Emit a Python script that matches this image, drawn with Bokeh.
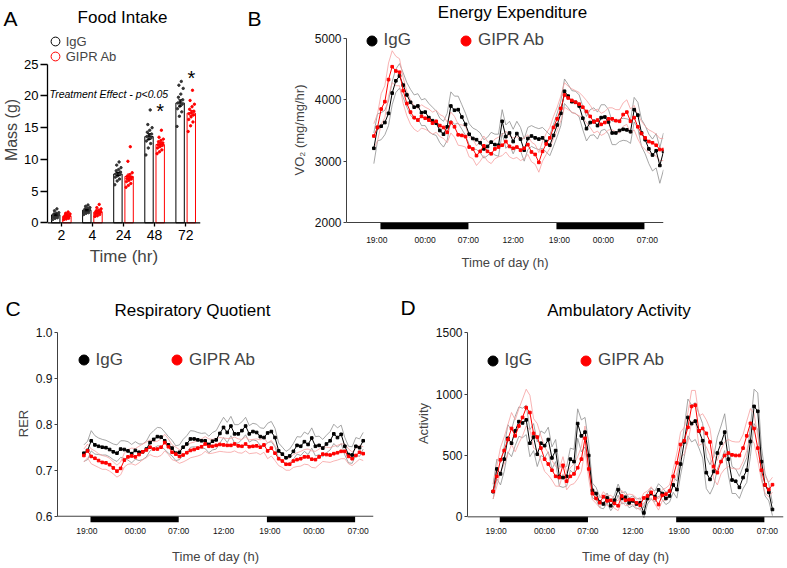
import numpy as np
from bokeh.plotting import figure
from bokeh.models import Range1d, FixedTicker, Label, Legend, LegendItem, Span
from bokeh.layouts import row, column
from bokeh.embed import file_html
from bokeh.resources import INLINE

FONT = "Liberation Sans"
NARROW = "Liberation Sans Narrow, Liberation Sans"
BLACK = "#000000"
RED = "#ff0000"
GREY_LIGHT = "#8f8f8f"
RED_LIGHT = "#f6a0a0"
AXIS = "#404040"

# ---------------- Panel A: food intake ----------------
intake_times = ["2", "4", "24", "48", "72"]
intake_igg_mean = [1.25, 2.0, 7.7, 13.6, 18.9]
intake_gipr_mean = [1.05, 1.7, 7.3, 12.35, 17.3]
intake_igg_sem = [0.12, 0.11, 0.25, 0.45, 0.5]
intake_gipr_sem = [0.09, 0.12, 0.4, 0.3, 0.4]
intake_igg_points = [
    [0.5, 0.7, 0.8, 0.9, 1.0, 1.1, 1.2, 1.2, 1.3, 1.4, 1.5, 1.6, 1.9, 2.2],
    [1.3, 1.5, 1.6, 1.7, 1.8, 1.9, 2.0, 2.0, 2.1, 2.2, 2.3, 2.4, 2.6, 2.8],
    [6.0, 6.6, 6.9, 7.2, 7.4, 7.6, 7.7, 7.8, 8.0, 8.2, 8.4, 8.7, 9.1, 9.6],
    [10.7, 11.8, 12.5, 12.9, 13.2, 13.4, 13.6, 13.8, 14.0, 14.3, 14.6, 15.0, 15.5, 17.8],
    [15.2, 16.8, 17.5, 18.0, 18.4, 18.7, 18.9, 19.1, 19.4, 19.8, 20.3, 21.2, 21.7, 22.3],
]
intake_gipr_points = [
    [0.5, 0.6, 0.7, 0.8, 0.9, 1.0, 1.0, 1.1, 1.1, 1.2, 1.3, 1.4, 1.5, 1.7],
    [1.0, 1.1, 1.3, 1.4, 1.5, 1.6, 1.7, 1.7, 1.8, 1.9, 2.0, 2.2, 2.4, 2.9],
    [5.6, 5.9, 6.2, 6.5, 6.7, 6.9, 7.0, 7.1, 7.2, 7.4, 7.6, 7.9, 9.7, 12.0],
    [10.9, 11.2, 11.5, 11.8, 12.0, 12.2, 12.3, 12.4, 12.6, 12.8, 13.0, 13.2, 13.5, 14.6],
    [14.4, 15.3, 15.9, 16.3, 16.7, 17.0, 17.2, 17.4, 17.6, 17.9, 18.3, 18.7, 19.3, 20.9],
]
intake_sig_labels = ["", "", "", "*", "*"]
intake_sig_y = [0, 0, 0, 17.7, 22.9]
intake_yticks = [0, 5, 10, 15, 20, 25]

# ---------------- Time-series panels ----------------
time_tick_hours = [-0.5, 6.1, 12.0, 18.1, 24.4, 30.4, 36.4]
time_tick_labels = ["19:00", "00:00", "07:00", "12:00", "19:00", "00:00", "07:00"]
dark_start = [0, 24]
dark_end = [12, 36]

vo2_igg = [3210, 3550, 3570, 3630, 3780, 4110, 4310, 4390, 4240, 4080,
           3960, 3880, 3900, 3790, 3800, 3710, 3660, 3620, 3500, 3440,
           3560, 3900, 3830, 3840, 3720, 3600, 3440, 3370, 3350, 3300,
           3200, 3240, 3310, 3270, 3260, 3650, 3400, 3460, 3320, 3450,
           3360, 3180, 3370, 3410, 3380, 3360, 3380, 3320, 3260, 3420,
           3590, 3780, 4140, 4060, 3970, 3960, 3900, 3700, 3530, 3630,
           3650, 3580, 3710, 3720, 3640, 3460, 3460, 3500, 3520, 3510,
           3480, 3840, 3750, 3460, 3350, 3200, 3100, 3170, 2930, 3160]
vo2_gipr = [3410, 3550, 3850, 3970, 4330, 4540, 4470, 4450, 4150, 3940,
            3800, 3710, 3670, 3730, 3700, 3670, 3620, 3650, 3580, 3550,
            3470, 3630, 3560, 3430, 3420, 3400, 3230, 3200, 3090, 3160,
            3250, 3160, 3120, 3200, 3230, 3260, 3320, 3240, 3210, 3230,
            3180, 3210, 3270, 3150, 3110, 2980, 3160, 3280, 3380, 3550,
            3690, 3860, 4080, 4030, 3990, 3960, 3930, 3880, 3810, 3730,
            3640, 3670, 3600, 3630, 3690, 3690, 3660, 3650, 3760, 3800,
            3650, 3710, 3560, 3450, 3380, 3320, 3300, 3260, 3190, 3190]
vo2_igg_sem = [250, 220, 220, 200, 200, 190, 190, 200, 200, 200,
               210, 200, 200, 210, 220, 230, 220, 200, 200, 210,
               220, 230, 230, 220, 200, 180, 170, 170, 160, 160,
               150, 150, 160, 170, 180, 190, 190, 190, 200, 200,
               190, 180, 180, 170, 170, 170, 170, 170, 170, 180,
               190, 200, 200, 190, 180, 180, 180, 190, 200, 210,
               220, 220, 210, 200, 200, 190, 190, 180, 180, 180,
               190, 200, 210, 220, 230, 240, 260, 280, 290, 300]
vo2_gipr_sem = [200, 220, 250, 260, 270, 260, 240, 220, 210, 200,
                200, 190, 190, 190, 180, 180, 180, 180, 180, 180,
                170, 170, 170, 170, 170, 170, 160, 160, 160, 160,
                160, 160, 160, 160, 160, 170, 170, 170, 170, 170,
                170, 170, 160, 160, 160, 160, 160, 170, 170, 180,
                190, 200, 200, 190, 190, 190, 190, 180, 180, 180,
                180, 180, 180, 180, 180, 180, 180, 190, 190, 200,
                200, 200, 200, 200, 190, 190, 180, 180, 180, 180]

rer_igg = [0.737, 0.743, 0.764, 0.755, 0.752, 0.750, 0.749, 0.745, 0.740, 0.737,
           0.746, 0.745, 0.742, 0.736, 0.743, 0.739, 0.740, 0.746, 0.760, 0.767,
           0.773, 0.772, 0.764, 0.755, 0.748, 0.737, 0.739, 0.750, 0.757, 0.768,
           0.768, 0.766, 0.764, 0.764, 0.756, 0.763, 0.766, 0.780, 0.793, 0.782,
           0.796, 0.779, 0.779, 0.786, 0.796, 0.779, 0.784, 0.782, 0.773, 0.771,
           0.781, 0.784, 0.771, 0.742, 0.735, 0.727, 0.731, 0.741, 0.754, 0.752,
           0.762, 0.756, 0.770, 0.752, 0.754, 0.748, 0.757, 0.764, 0.779, 0.771,
           0.778, 0.752, 0.734, 0.733, 0.752, 0.749, 0.764]
rer_gipr = [0.732, 0.742, 0.730, 0.726, 0.721, 0.717, 0.716, 0.712, 0.705, 0.698,
            0.704, 0.722, 0.729, 0.731, 0.729, 0.734, 0.740, 0.744, 0.750, 0.746,
            0.746, 0.750, 0.760, 0.751, 0.739, 0.735, 0.730, 0.733, 0.738, 0.743,
            0.745, 0.748, 0.751, 0.757, 0.752, 0.752, 0.754, 0.756, 0.755, 0.754,
            0.754, 0.757, 0.753, 0.752, 0.757, 0.751, 0.752, 0.753, 0.750, 0.755,
            0.742, 0.748, 0.737, 0.725, 0.720, 0.713, 0.713, 0.720, 0.723, 0.725,
            0.729, 0.729, 0.724, 0.723, 0.729, 0.735, 0.734, 0.733, 0.736, 0.738,
            0.741, 0.741, 0.730, 0.725, 0.732, 0.739, 0.736]
rer_igg_sem = [0.018, 0.020, 0.022, 0.020, 0.018, 0.017, 0.016, 0.016, 0.017, 0.018,
               0.018, 0.019, 0.020, 0.020, 0.019, 0.018, 0.017, 0.017, 0.018, 0.019,
               0.020, 0.020, 0.019, 0.018, 0.017, 0.016, 0.016, 0.017, 0.018, 0.018,
               0.017, 0.016, 0.016, 0.017, 0.018, 0.019, 0.020, 0.021, 0.022, 0.022,
               0.021, 0.020, 0.020, 0.019, 0.019, 0.018, 0.018, 0.018, 0.019, 0.020,
               0.021, 0.022, 0.020, 0.017, 0.015, 0.014, 0.015, 0.017, 0.019, 0.020,
               0.021, 0.022, 0.022, 0.021, 0.020, 0.019, 0.019, 0.020, 0.021, 0.021,
               0.020, 0.019, 0.018, 0.018, 0.019, 0.019, 0.018]
rer_gipr_sem = [0.014, 0.015, 0.016, 0.016, 0.015, 0.015, 0.014, 0.014, 0.013, 0.013,
                0.014, 0.015, 0.016, 0.017, 0.018, 0.018, 0.017, 0.017, 0.016, 0.016,
                0.017, 0.018, 0.018, 0.017, 0.016, 0.015, 0.015, 0.015, 0.016, 0.016,
                0.016, 0.017, 0.017, 0.016, 0.016, 0.015, 0.015, 0.015, 0.015, 0.015,
                0.015, 0.015, 0.015, 0.015, 0.015, 0.015, 0.015, 0.015, 0.016, 0.016,
                0.017, 0.017, 0.016, 0.015, 0.014, 0.013, 0.013, 0.014, 0.015, 0.016,
                0.016, 0.017, 0.018, 0.018, 0.017, 0.016, 0.016, 0.016, 0.016, 0.016,
                0.016, 0.016, 0.016, 0.015, 0.015, 0.015, 0.015]
rer_tick_values = [0.6, 0.7, 0.8, 0.9, 1.0]
rer_tick_labels = ["0.6", "0.7", "0.8", "0.9", "1.0"]

act_igg = [205, 390, 350, 470, 640, 600, 700, 776, 765, 790,
           600, 650, 510, 600, 580, 630, 480, 540, 330, 320,
           330, 470, 450, 760, 660, 690, 500, 215, 190, 120,
           105, 154, 90, 135, 222, 150, 160, 114, 130, 105,
           114, 32, 150, 190, 165, 220, 190, 150, 170, 260,
           222, 430, 610, 810, 760, 780, 700, 620, 360, 305,
           370, 520, 600, 690, 470, 300, 290, 240, 320, 380,
           614, 900, 860, 450, 260, 200, 60]
act_gipr = [208, 330, 465, 540, 630, 720, 660, 740, 810, 890,
            850, 680, 650, 560, 470, 430, 380, 330, 320, 420,
            290, 330, 350, 400, 470, 640, 390, 190, 150, 115,
            165, 130, 135, 110, 90, 170, 135, 140, 140, 115,
            95, 154, 170, 200, 150, 100, 175, 185, 210, 330,
            440, 590, 620, 730, 900, 910, 700, 720, 680, 610,
            410, 360, 450, 500, 520, 505, 500, 500, 560, 660,
            762, 720, 560, 380, 260, 222, 262]
act_igg_sem = [60, 80, 90, 100, 110, 110, 120, 120, 120, 120,
               110, 110, 100, 100, 100, 100, 90, 90, 80, 80,
               80, 90, 100, 120, 130, 120, 100, 60, 50, 45,
               40, 40, 40, 40, 45, 45, 45, 40, 40, 40,
               40, 40, 45, 45, 45, 50, 50, 50, 50, 60,
               70, 90, 120, 150, 150, 150, 140, 140, 130, 120,
               120, 130, 140, 150, 130, 110, 100, 90, 90, 100,
               120, 140, 150, 120, 90, 70, 50]
act_gipr_sem = [60, 80, 100, 110, 120, 130, 130, 140, 150, 150,
                140, 120, 110, 100, 100, 90, 80, 80, 70, 70,
                70, 70, 80, 90, 100, 100, 80, 50, 40, 40,
                40, 40, 40, 40, 40, 45, 45, 45, 40, 40,
                40, 40, 40, 45, 45, 45, 45, 50, 50, 60,
                80, 100, 110, 120, 130, 120, 120, 120, 110, 110,
                100, 100, 100, 110, 110, 110, 110, 110, 110, 120,
                120, 120, 100, 80, 70, 60, 60]

nan = float("nan")


def sample_hours(n):
    # 30-minute sampling starting shortly before lights-off (19:00 = hour 0)
    return [round(-0.9 + 0.5 * i, 2) for i in range(n)]


def base_style(p):
    p.outline_line_color = None
    p.xgrid.visible = False
    p.ygrid.visible = False
    p.background_fill_color = "white"
    p.border_fill_color = "white"


def add_text(p, x, y, text, size, align="center", style="normal"):
    p.add_layout(Label(x=x, y=y, x_units="screen", y_units="screen", text=text,
                       text_font=FONT, text_font_size=size, text_align=align,
                       text_baseline="middle", text_font_style=style,
                       text_color="black"))


def header(width, height, items):
    h = figure(width=width, height=height, x_range=Range1d(0, width), y_range=Range1d(0, height),
               x_axis_type=None, y_axis_type=None, output_backend="svg",
               toolbar_location=None, min_border=0)
    base_style(h)
    for x, y, text, size, align in items:
        add_text(h, x, y, text, size, align=align)
    return h


# ---------------- headers (panel letters and titles) ----------------
head_top = header(785, 30, [(3, 12.5, "A", "21px", "left"),
                            (122, 13, "Food Intake", "17px", "center"),
                            (247, 12, "B", "21px", "left"),
                            (512, 18, "Energy Expenditure", "17px", "center")])
head_bot = header(785, 30, [(5, 12.5, "C", "21px", "left"),
                            (192, 10, "Respiratory Quotient", "17px", "center"),
                            (400, 13, "D", "21px", "left"),
                            (619, 10, "Ambulatory Activity", "17px", "center")])

# ---------------- build panel A ----------------
n_cat = len(intake_times)
xpos = np.arange(1, n_cat + 1)
pA = figure(width=210, height=260, x_range=Range1d(0.556, 5.476), y_range=Range1d(-1.057, 30.33),
            output_backend="svg", toolbar_location=None,
            min_border_left=45, min_border_right=10, min_border_top=0, min_border_bottom=61)
base_style(pA)
pA.vbar(x=xpos - 0.18, top=intake_igg_mean, width=0.27, fill_color="white",
        line_color=BLACK, line_width=1)
pA.vbar(x=xpos + 0.18, top=intake_gipr_mean, width=0.27, fill_color="white",
        line_color=RED, line_width=1)

for shift, pts_all, color in ((-0.18, intake_igg_points, "#333333"), (0.18, intake_gipr_points, RED)):
    xs, ys = [], []
    for k, pts in enumerate(pts_all):
        n = len(pts)
        for j, v in enumerate(pts):
            off = (((j * 5) % n) / (n - 1) - 0.5) * 0.2
            xs.append(xpos[k] + shift + off)
            ys.append(v)
    pA.scatter(xs, ys, size=2.4, color=color)

for shift, means, sems, color in ((-0.18, intake_igg_mean, intake_igg_sem, BLACK),
                                  (0.18, intake_gipr_mean, intake_gipr_sem, RED)):
    m = np.array(means)
    s = np.array(sems)
    xc = xpos + shift
    pA.segment(x0=xc, y0=m - s, x1=xc, y1=m + s, line_color=color, line_width=1)
    pA.segment(x0=xc - 0.06, y0=m + s, x1=xc + 0.06, y1=m + s, line_color=color, line_width=1)
    pA.segment(x0=xc - 0.06, y0=m - s, x1=xc + 0.06, y1=m - s, line_color=color, line_width=1)

sig_x = [xpos[k] + 0.18 for k in range(n_cat) if intake_sig_labels[k]]
sig_y = [intake_sig_y[k] for k in range(n_cat) if intake_sig_labels[k]]
sig_t = [intake_sig_labels[k] for k in range(n_cat) if intake_sig_labels[k]]
pA.text(x=sig_x, y=sig_y, text=sig_t, text_font_size="20px", text_align="center",
        text_baseline="middle", text_color="black")

# x axis line of panel A sits at y = 0 (frame extends a little lower)
pA.add_layout(Span(location=intake_yticks[0], dimension="width", line_color=BLACK, line_width=1.3))

ya = pA.yaxis[0]
ya.ticker = FixedTicker(ticks=intake_yticks)
ya.bounds = (intake_yticks[0], intake_yticks[-1])
ya.axis_line_color = BLACK
ya.axis_line_width = 1.3
ya.major_tick_out = 7
ya.major_tick_in = 0
ya.major_tick_line_width = 1.3
ya.minor_tick_line_color = None
ya.major_label_text_font = FONT
ya.major_label_text_font_size = "13px"
ya.major_label_text_color = "black"
ya.major_label_standoff = 2
ya.axis_label = "Mass (g)"
ya.axis_label_text_font = FONT
ya.axis_label_text_font_size = "16px"
ya.axis_label_text_font_style = "normal"
ya.axis_label_standoff = 1

xa = pA.xaxis[0]
xa.ticker = FixedTicker(ticks=[int(v) for v in xpos])
xa.major_label_overrides = {int(v): t for v, t in zip(xpos, intake_times)}
xa.axis_line_color = None
xa.major_tick_in = 7
xa.major_tick_out = -3
xa.major_tick_line_width = 1.3
xa.major_tick_line_color = BLACK
xa.minor_tick_line_color = None
xa.minor_tick_in = 0
xa.minor_tick_out = 0
xa.major_label_text_font = FONT
xa.major_label_text_font_size = "14px"
xa.major_label_text_color = "black"
xa.major_label_standoff = 0
xa.axis_label = "Time (hr)"
xa.axis_label_text_font = FONT
xa.axis_label_text_font_size = "17px"
xa.axis_label_text_font_style = "normal"
xa.axis_label_standoff = 4

legA1 = pA.scatter(x=[nan], y=[nan], marker="circle", size=9, fill_color=None,
                   line_color=BLACK, line_width=1)
legA2 = pA.scatter(x=[nan], y=[nan], marker="circle", size=9, fill_color=None,
                   line_color=RED, line_width=1)
for r, lab, vy in ((legA1, "IgG", 177), (legA2, "GIPR Ab", 162)):
    lg = Legend(items=[LegendItem(label=lab, renderers=[r])], location=(-3.25, vy),
                orientation="vertical", glyph_width=22, glyph_height=22, label_standoff=0,
                padding=0, margin=0, spacing=0, background_fill_alpha=0,
                border_line_alpha=0, label_text_font=FONT, label_text_font_size="13px",
                label_height=14)
    pA.add_layout(lg)

add_text(pA, 2, 136, "Treatment Effect - p<0.05", "10.5px", align="left", style="italic")


# ---------------- time-series panel builder ----------------
def ts_panel(width, height, borders, x_range, y_range, y_ticks, y_tick_labels,
             y_label, y_label_standoff, igg, igg_sem, gipr, gipr_sem,
             legend_xy, legend_spacing, xlab_standoffs):
    left, right, top, bottom = borders
    p = figure(width=width, height=height, x_range=Range1d(*x_range),
               y_range=Range1d(*y_range), output_backend="svg", toolbar_location=None,
               min_border_left=left, min_border_right=right, min_border_top=top,
               min_border_bottom=bottom)
    base_style(p)
    y_min, y_max = y_ticks[0], y_ticks[-1]

    ya = p.yaxis[0]
    ya.ticker = FixedTicker(ticks=y_ticks)
    ya.major_label_overrides = {t: l for t, l in zip(y_ticks, y_tick_labels)}
    ya.bounds = (y_min, y_max)
    ya.axis_line_color = AXIS
    ya.major_tick_line_color = AXIS
    ya.major_tick_out = 3
    ya.major_tick_in = 0
    ya.minor_tick_line_color = None
    ya.major_label_text_font = FONT
    ya.major_label_text_font_size = "12px"
    ya.major_label_text_color = "#111111"
    ya.major_label_standoff = 2
    ya.axis_label = y_label
    ya.axis_label_text_font = FONT
    ya.axis_label_text_font_size = "13px"
    ya.axis_label_text_font_style = "normal"
    ya.axis_label_standoff = y_label_standoff

    xa = p.xaxis[0]
    xa.ticker = FixedTicker(ticks=time_tick_hours)
    xa.major_label_overrides = {h: l for h, l in zip(time_tick_hours, time_tick_labels)}
    xa.axis_line_color = None
    xa.major_tick_line_color = None
    xa.major_tick_out = 0
    xa.major_tick_in = 0
    xa.minor_tick_line_color = None
    xa.minor_tick_out = 0
    xa.minor_tick_in = 0
    xa.major_label_text_font = NARROW
    xa.major_label_text_font_size = "8.5px"
    xa.major_label_text_color = "#111111"
    xa.major_label_standoff = xlab_standoffs[0]
    xa.axis_label = "Time of day (h)"
    xa.axis_label_text_font = FONT
    xa.axis_label_text_font_size = "13px"
    xa.axis_label_text_font_style = "normal"
    xa.axis_label_standoff = xlab_standoffs[1]

    p.add_layout(Span(location=y_min, dimension="width", line_color=AXIS, line_width=1))
    p.quad(left=dark_start, right=dark_end, bottom=y_range[0], top=y_min,
           fill_color="black", line_color=None)

    hours = sample_hours(len(igg))
    for mean, sem, light in ((igg, igg_sem, GREY_LIGHT), (gipr, gipr_sem, RED_LIGHT)):
        m = np.array(mean, dtype=float)
        s = np.array(sem, dtype=float)
        p.line(hours, m + s, line_color=light, line_width=0.8)
        p.line(hours, m - s, line_color=light, line_width=0.8)
    for mean, dark in ((igg, BLACK), (gipr, RED)):
        p.line(hours, mean, line_color=dark, line_width=1)
        p.scatter(hours, mean, marker="square", size=2.6, color=dark)

    r1 = p.scatter(x=[nan], y=[nan], marker="circle", size=10, color=BLACK)
    r2 = p.scatter(x=[nan], y=[nan], marker="circle", size=10, color=RED)
    lg = Legend(items=[LegendItem(label="IgG", renderers=[r1]),
                       LegendItem(label="GIPR Ab", renderers=[r2])],
                orientation="horizontal", location=legend_xy, spacing=legend_spacing,
                glyph_width=25, glyph_height=25, label_standoff=0, padding=0, margin=0,
                background_fill_alpha=0, border_line_alpha=0, label_text_font=FONT,
                label_text_font_size="17px")
    p.add_layout(lg)
    return p


pB = ts_panel(575, 260, (136, 122, 0, 61), (-4.63, 38.6), (1886, 5130.4),
              [2000, 3000, 4000, 5000], ["2000", "3000", "4000", "5000"],
              "VO\u2082 (mg/mg/hr)", 5, vo2_igg, vo2_igg_sem, vo2_gipr, vo2_gipr_sem,
              (12.5, 176.5), 42, (5, 7))

pC = ts_panel(400, 246, (57, 27, 4, 43), (-4.49, 38.5), (0.5864, 1.01665),
              rer_tick_values, rer_tick_labels,
              "RER", 2, rer_igg, rer_igg_sem, rer_gipr, rer_gipr_sem,
              (13.5, 149.8), 41, (3, 10))

pD = ts_panel(385, 246, (67, 2, 4, 43), (-4.39, 38.6), (-46.2, 1567.3),
              [0, 500, 1000, 1500], ["0", "500", "1000", "1500"],
              "Activity", 2, act_igg, act_igg_sem, act_gipr, act_gipr_sem,
              (12.5, 149.5), 41, (3, 10))

layout = column(head_top, row(pA, pB), head_bot, row(pC, pD))

with open("out.html", "w") as f:
    f.write(file_html(layout, INLINE))
